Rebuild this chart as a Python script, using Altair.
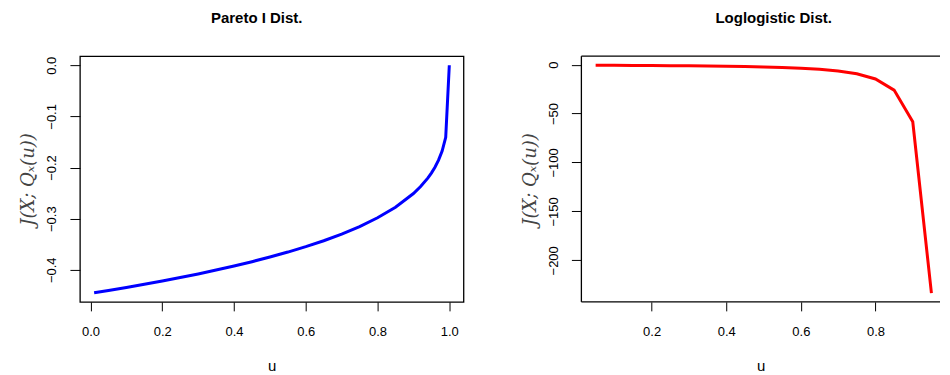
import altair as alt
import pandas as pd

# Pareto I panel (blue)
pareto_u = [0.01, 0.05, 0.10, 0.15, 0.20, 0.25, 0.30, 0.35, 0.40, 0.45, 0.50,
            0.55, 0.60, 0.65, 0.70, 0.75, 0.80, 0.85, 0.90, 0.92, 0.94, 0.95,
            0.96, 0.97, 0.98, 0.99, 1.00]
pareto_j = [-0.4449, -0.4403, -0.4344, -0.4282, -0.4218, -0.4150, -0.4080,
            -0.4005, -0.3925, -0.3841, -0.3750, -0.3653, -0.3547, -0.3431,
            -0.3301, -0.3154, -0.2982, -0.2775, -0.2508, -0.2372, -0.2207,
            -0.2109, -0.1995, -0.1856, -0.1677, -0.1410, 0.0]

# Loglogistic panel (red)
loglog_u = [0.05, 0.10, 0.15, 0.20, 0.25, 0.30, 0.35, 0.40, 0.45, 0.50,
            0.55, 0.60, 0.65, 0.70, 0.75, 0.80, 0.85, 0.90, 0.95]
loglog_j = [-0.65, -0.72, -0.81, -0.91, -1.04, -1.19, -1.38, -1.62, -1.93,
            -2.34, -2.88, -3.65, -4.77, -6.49, -9.34, -14.6, -26.0, -58.4,
            -233.6]

FONT = "Liberation Sans"
YTITLE = "J(X; Qₓ(u))"
W_LEFT, W_RIGHT, H = 384, 359, 246

df_p = pd.DataFrame({"u": pareto_u, "J": pareto_j})
df_l = pd.DataFrame({"u": loglog_u, "J": loglog_j})
one = pd.DataFrame({"k": [0]})


def xaxis(values):
    return alt.Axis(values=values, format=".1f", grid=False, domain=False,
                    tickSize=9, tickColor="black", labelPadding=15,
                    labelFontSize=13, labelFont=FONT, labelColor="black",
                    title="u", titleFont=FONT, titleFontSize=15,
                    titleFontWeight="normal", titleColor="black",
                    titlePadding=20, labelFlush=False)


def yaxis(values, fmt):
    return alt.Axis(values=values, format=fmt, grid=False, domain=False,
                    tickSize=10, tickColor="black", labelPadding=11,
                    labelAngle=270, labelAlign="center", labelBaseline="bottom",
                    labelFontSize=13, labelFont=FONT, labelColor="black",
                    title=YTITLE, titleFont="DejaVu Serif", titleFontSize=18,
                    titleFontStyle="italic", titleFontWeight="normal",
                    titleColor="#444444", titlePadding=8)


left = alt.Chart(df_p).mark_line(color="#0000ff", strokeWidth=3).encode(
    x=alt.X("u:Q", scale=alt.Scale(domain=[-0.0296, 1.0396], nice=False, zero=False),
            axis=xaxis([0.0, 0.2, 0.4, 0.6, 0.8, 1.0])),
    y=alt.Y("J:Q", scale=alt.Scale(domain=[-0.4627, 0.0178], nice=False, zero=False),
            axis=yaxis([-0.4, -0.3, -0.2, -0.1, 0.0], ".1f")),
).properties(
    width=W_LEFT, height=H,
    view=alt.ViewBackground(stroke="black", strokeWidth=1.3),
    title=alt.TitleParams("Pareto I Dist.", font=FONT, fontSize=15,
                          fontWeight="bold", color="black", frame="group",
                          anchor="middle", offset=30, dx=-15),
)

red_line = alt.Chart(df_l).mark_line(color="#ff0000", strokeWidth=3).encode(
    x=alt.X("u:Q", scale=alt.Scale(domain=[0.0118, 0.9730], nice=False, zero=False),
            axis=xaxis([0.2, 0.4, 0.6, 0.8])),
    y=alt.Y("J:Q", scale=alt.Scale(domain=[-242.5, 8.7], nice=False, zero=False),
            axis=yaxis([-200, -150, -100, -50, 0], "d")),
)
frame_top = alt.Chart(one).mark_rule(color="black", strokeWidth=1.3).encode(
    x=alt.value(0), x2=alt.value(W_RIGHT), y=alt.value(0))
frame_left = alt.Chart(one).mark_rule(color="black", strokeWidth=1.3).encode(
    x=alt.value(0), y=alt.value(0), y2=alt.value(H))
frame_bottom = alt.Chart(one).mark_rule(color="black", strokeWidth=1.3).encode(
    x=alt.value(0), x2=alt.value(W_RIGHT), y=alt.value(H))

right = alt.layer(red_line, frame_top, frame_left, frame_bottom).properties(
    width=W_RIGHT, height=H,
    view=alt.ViewBackground(stroke="transparent"),
    title=alt.TitleParams("Loglogistic Dist.", font=FONT, fontSize=15,
                          fontWeight="bold", color="black", frame="group",
                          anchor="middle", offset=30, dx=13),
)

chart = alt.hconcat(left, right, spacing=56).properties(
    padding={"left": 11, "top": 1, "right": 0, "bottom": 0},
    background="white",
)

chart.save("out.html", embed_options={"renderer": "svg", "actions": False})
